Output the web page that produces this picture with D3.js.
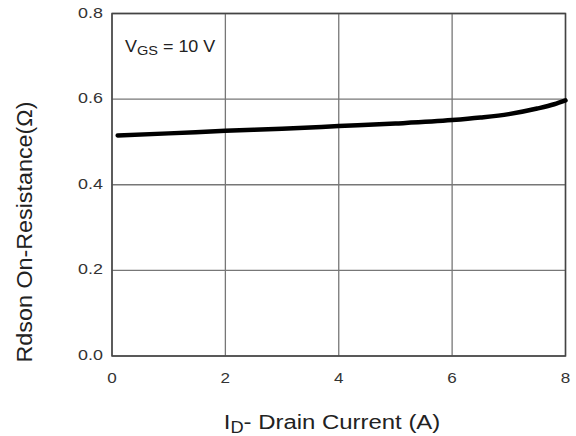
<!DOCTYPE html>
<html>
<head>
<meta charset="utf-8">
<script src="https://cdn.jsdelivr.net/npm/d3@7"></script>
<style>
body { margin: 0; background: #fff; }
text { font-family: "Liberation Sans", Arial, sans-serif; }
</style>
</head>
<body>
<div id="chart"></div>
<script>
// drain current (A) and on-resistance (ohm)
var current = [0.1, 1, 2, 3, 4, 5, 6, 6.5, 7, 7.5, 7.8, 8];
var resistance = [0.515, 0.520, 0.526, 0.531, 0.537, 0.543, 0.551, 0.557, 0.565, 0.578, 0.588, 0.597];
var xTicks = [0, 2, 4, 6, 8];
var yTicks = [0, 0.2, 0.4, 0.6, 0.8];

var svg = d3.select("#chart")
  .append("svg")
  .attr("width", 576)
  .attr("height", 436);

var xScale = d3.scaleLinear().domain([0, 8]).range([112, 565.5]);
var yScale = d3.scaleLinear().domain([0, 0.8]).range([356, 13.5]);

// grid
svg.selectAll(".vgrid")
  .data(xTicks)
  .enter()
  .append("line")
  .attr("x1", function(d) { return xScale(d); })
  .attr("x2", function(d) { return xScale(d); })
  .attr("y1", yScale(0))
  .attr("y2", yScale(0.8))
  .attr("stroke", "#777")
  .attr("stroke-width", 1.3);

svg.selectAll(".hgrid")
  .data(yTicks)
  .enter()
  .append("line")
  .attr("x1", xScale(0))
  .attr("x2", xScale(8))
  .attr("y1", function(d) { return yScale(d); })
  .attr("y2", function(d) { return yScale(d); })
  .attr("stroke", "#777")
  .attr("stroke-width", 1.3);

// frame
svg.append("rect")
  .attr("x", xScale(0))
  .attr("y", yScale(0.8))
  .attr("width", xScale(8) - xScale(0))
  .attr("height", yScale(0) - yScale(0.8))
  .attr("fill", "none")
  .attr("stroke", "#444")
  .attr("stroke-width", 1.5);

// tick labels (the source font is a bit wider, so stretch horizontally)
svg.selectAll(".xlab")
  .data(xTicks)
  .enter()
  .append("text")
  .text(function(d) { return d; })
  .attr("transform", function(d) { return "translate(" + xScale(d) + ",383) scale(1.22,1)"; })
  .attr("text-anchor", "middle")
  .attr("font-size", 14)
  .attr("fill", "#333");

svg.selectAll(".ylab")
  .data(yTicks)
  .enter()
  .append("text")
  .text(function(d) { return d.toFixed(1); })
  .attr("transform", function(d) { return "translate(103," + (yScale(d) + 4) + ") scale(1.28,1)"; })
  .attr("text-anchor", "end")
  .attr("font-size", 14)
  .attr("fill", "#333");

// curve
var line = d3.line()
  .x(function(d, i) { return xScale(current[i]); })
  .y(function(d) { return yScale(d); })
  .curve(d3.curveMonotoneX);

svg.append("path")
  .datum(resistance)
  .attr("d", line)
  .attr("fill", "none")
  .attr("stroke", "#000")
  .attr("stroke-width", 4.5)
  .attr("stroke-linecap", "round");

// annotation
var ann = svg.append("text")
  .attr("transform", "translate(125,52) scale(1.12,1)")
  .attr("font-size", 16)
  .attr("fill", "#222");
ann.append("tspan").text("V");
ann.append("tspan").text("GS").attr("font-size", 13).attr("dy", 3);
ann.append("tspan").text(" = 10 V").attr("dy", -3);

// axis titles
var xt = svg.append("text")
  .attr("transform", "translate(332,429) scale(1.14,1)")
  .attr("text-anchor", "middle")
  .attr("font-size", 21)
  .attr("fill", "#222");
xt.append("tspan").text("I");
xt.append("tspan").text("D").attr("font-size", 16).attr("dy", 4);
xt.append("tspan").text("- Drain Current (A)").attr("dy", -4);

svg.append("text")
  .text("Rdson On-Resistance(\u03A9)")
  .attr("transform", "translate(32,232) rotate(-90) scale(1.06,1)")
  .attr("text-anchor", "middle")
  .attr("font-size", 22)
  .attr("fill", "#222");
</script>
</body>
</html>
